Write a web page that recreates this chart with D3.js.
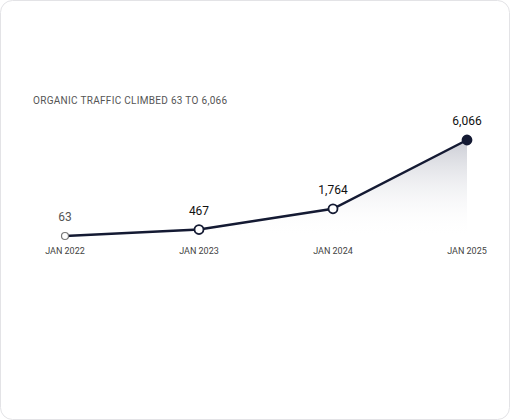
<!DOCTYPE html>
<html><head><meta charset="utf-8">
<script src="https://cdn.jsdelivr.net/npm/d3@7"></script>
<style>body{margin:0;background:#fff}</style>
</head><body><div id="chart"></div>
<script>
const labels = ["JAN 2022", "JAN 2023", "JAN 2024", "JAN 2025"];
const traffic = [63, 467, 1764, 6066];
const valueText = ["63", "467", "1,764", "6,066"];

const svg = d3.select("#chart").append("svg").attr("width", 510).attr("height", 420);
svg.append("rect").attr("x", 0.5).attr("y", 0.5).attr("width", 509).attr("height", 419)
  .attr("rx", 12).attr("fill", "#fff").attr("stroke", "#e3e3e6");

svg.append("text").attr("x", 33).attr("y", 104).attr("font-family", "Roboto, sans-serif")
  .attr("font-size", 10).attr("fill", "#555").attr("letter-spacing", 0.3)
  .text("ORGANIC TRAFFIC CLIMBED 63 TO 6,066");

const x = d3.scalePoint().domain(labels).range([65, 467]);
const y = d3.scaleLinear().domain([63, 6066]).range([236, 140]);
const data = labels.map((l, i) => ({ l, v: traffic[i], t: valueText[i] }));

const grad = svg.append("defs").append("linearGradient").attr("id", "g")
  .attr("x1", 0).attr("y1", 0).attr("x2", 0).attr("y2", 1);
grad.append("stop").attr("offset", 0).attr("stop-color", "#c5c7d0").attr("stop-opacity", 0.9);
grad.append("stop").attr("offset", 1).attr("stop-color", "#fff").attr("stop-opacity", 0);

svg.append("path").datum(data).attr("fill", "url(#g)")
  .attr("d", d3.area().x(d => x(d.l)).y0(238).y1(d => y(d.v)));
svg.append("path").datum(data).attr("fill", "none").attr("stroke", "#141a33").attr("stroke-width", 2.5)
  .attr("d", d3.line().x(d => x(d.l)).y(d => y(d.v)));

svg.selectAll("circle.p").data(data).join("circle")
  .attr("cx", d => x(d.l)).attr("cy", d => y(d.v))
  .attr("r", (d, i) => i === 0 ? 3.5 : 4.5)
  .attr("fill", (d, i) => i === 3 ? "#141a33" : "#fff")
  .attr("stroke", (d, i) => i === 0 ? "#777" : "#141a33")
  .attr("stroke-width", (d, i) => i === 0 ? 1.2 : 1.8);

svg.selectAll("text.v").data(data).join("text")
  .attr("x", d => x(d.l)).attr("y", d => y(d.v) - 15).attr("text-anchor", "middle")
  .attr("font-family", "Roboto, sans-serif").attr("font-size", 12)
  .attr("fill", (d, i) => i === 0 ? "#555" : "#111").text(d => d.t);

svg.selectAll("text.x").data(data).join("text")
  .attr("x", d => x(d.l)).attr("y", 254).attr("text-anchor", "middle")
  .attr("font-family", "Roboto, sans-serif").attr("font-size", 9).attr("fill", "#444")
  .text(d => d.l);
</script></body></html>
